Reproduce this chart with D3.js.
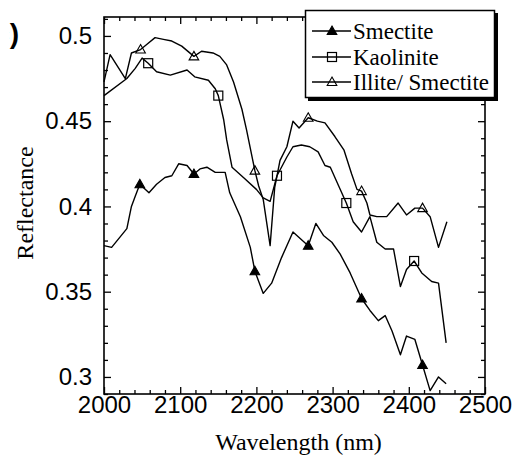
<!DOCTYPE html>
<html><head><meta charset="utf-8">
<script src="https://cdn.jsdelivr.net/npm/d3@7"></script>
<style>html,body{margin:0;padding:0;background:#fff;}svg{display:block;}</style>
</head><body><svg id="c" width="516" height="458"></svg>
<script>
// ---- data ----
const smectiteWl = [2000,2010,2030,2036,2041,2047,2059,2069,2080,2089,2098,2109,2118,2126,2135,2146,2159,2165,2179,2192,2198,2209,2220,2233,2248,2268,2278,2288,2299,2310,2323,2338,2349,2360,2369,2378,2389,2397,2408,2418,2428,2439,2449];
const smectiteR = [0.377,0.376,0.387,0.400,0.406,0.413,0.408,0.413,0.417,0.418,0.425,0.424,0.419,0.422,0.423,0.420,0.420,0.408,0.394,0.376,0.362,0.349,0.355,0.370,0.385,0.377,0.390,0.383,0.379,0.372,0.361,0.346,0.339,0.333,0.336,0.327,0.313,0.324,0.322,0.307,0.292,0.300,0.296];
const smectiteMarks = [2047,2118,2198,2268,2338,2418];

const kaoliniteWl = [2000,2030,2041,2050,2058,2069,2087,2109,2119,2137,2146,2150,2157,2161,2168,2183,2200,2209,2218,2227,2240,2248,2259,2270,2281,2290,2297,2308,2318,2327,2338,2349,2358,2369,2380,2389,2397,2407,2417,2430,2439,2449];
const kaoliniteR = [0.465,0.475,0.481,0.487,0.484,0.479,0.477,0.480,0.476,0.474,0.469,0.465,0.451,0.439,0.423,0.417,0.410,0.405,0.403,0.418,0.429,0.435,0.436,0.435,0.432,0.424,0.423,0.412,0.402,0.391,0.385,0.394,0.379,0.375,0.375,0.353,0.363,0.368,0.361,0.356,0.355,0.320];
const kaoliniteMarks = [2058,2150,2227,2318,2407];

const illiteWl = [2000,2008,2028,2036,2048,2056,2067,2078,2089,2102,2118,2128,2143,2152,2161,2170,2181,2187,2198,2203,2209,2218,2224,2231,2240,2248,2256,2268,2280,2290,2303,2315,2325,2332,2338,2345,2349,2358,2371,2386,2397,2408,2418,2428,2439,2450];
const illiteR = [0.473,0.489,0.475,0.490,0.492,0.495,0.499,0.498,0.497,0.494,0.488,0.491,0.490,0.488,0.483,0.473,0.457,0.445,0.421,0.412,0.404,0.377,0.411,0.427,0.435,0.450,0.446,0.452,0.450,0.449,0.441,0.433,0.419,0.410,0.409,0.402,0.395,0.394,0.394,0.402,0.395,0.399,0.399,0.394,0.376,0.391];
const illiteMarks = [2048,2118,2198,2268,2338,2418];

const seriesNames = ["Smectite","Kaolinite","Illite/ Smectite"];
const xMajorTicks = [2000,2100,2200,2300,2400,2500];
const yMajorTicks = [0.3,0.35,0.4,0.45,0.5];
const xMinorTicks = [2020,2040,2060,2080,2120,2140,2160,2180,2220,2240,2260,2280,2320,2340,2360,2380,2420,2440,2460,2480];
const yMinorTicks = [0.29,0.31,0.32,0.33,0.34,0.36,0.37,0.38,0.39,0.41,0.42,0.43,0.44,0.46,0.47,0.48,0.49,0.51];

// ---- layout ----
const svg = d3.select("#c");
const L = 104, R = 485, T = 17, B = 394;
const x = d3.scaleLinear().domain([2000,2500]).range([L,R]);
const y = d3.scaleLinear().domain([0.29,0.5111]).range([B,T]);
const sans = "'Liberation Sans', Arial, sans-serif";
const serif = "'Liberation Serif', 'Times New Roman', serif";

function styleAxis(g){
  g.select(".domain").remove();
  g.selectAll(".tick line").attr("stroke","#000").attr("stroke-width",1.3);
}
// bottom
svg.append("g").attr("transform",`translate(0,${B})`)
  .call(d3.axisBottom(x).tickValues(xMajorTicks).tickSize(-7).tickPadding(6).tickFormat(d3.format("d")))
  .call(styleAxis)
  .call(g=>g.selectAll("text").attr("font-family",sans).attr("font-size",24).attr("fill","#000").attr("dy","0.72em").attr("y",2));
svg.append("g").attr("transform",`translate(0,${B})`)
  .call(d3.axisBottom(x).tickValues(xMinorTicks).tickSize(-4).tickFormat(""))
  .call(styleAxis);
// top
svg.append("g").attr("transform",`translate(0,${T})`)
  .call(d3.axisTop(x).tickValues(xMajorTicks).tickSize(-7).tickFormat(""))
  .call(styleAxis);
svg.append("g").attr("transform",`translate(0,${T})`)
  .call(d3.axisTop(x).tickValues(xMinorTicks).tickSize(-4).tickFormat(""))
  .call(styleAxis);
// left
svg.append("g").attr("transform",`translate(${L},0)`)
  .call(d3.axisLeft(y).tickValues(yMajorTicks).tickSize(-7).tickPadding(12).tickFormat(d3.format("")))
  .call(styleAxis)
  .call(g=>g.selectAll("text").attr("font-family",sans).attr("font-size",24).attr("fill","#000"));
svg.append("g").attr("transform",`translate(${L},0)`)
  .call(d3.axisLeft(y).tickValues(yMinorTicks).tickSize(-4).tickFormat(""))
  .call(styleAxis);
// right
svg.append("g").attr("transform",`translate(${R},0)`)
  .call(d3.axisRight(y).tickValues(yMajorTicks).tickSize(-7).tickFormat(""))
  .call(styleAxis);
svg.append("g").attr("transform",`translate(${R},0)`)
  .call(d3.axisRight(y).tickValues(yMinorTicks).tickSize(-4).tickFormat(""))
  .call(styleAxis);

// frame
svg.append("rect").attr("x",L).attr("y",T).attr("width",R-L).attr("height",B-T)
  .attr("fill","none").attr("stroke","#000").attr("stroke-width",1.6);

// series
const line = d3.line().x(d=>x(d[0])).y(d=>y(d[1]));
const series = [
  {wl:smectiteWl, r:smectiteR, marks:smectiteMarks, sym:"triF"},
  {wl:kaoliniteWl, r:kaoliniteR, marks:kaoliniteMarks, sym:"sq"},
  {wl:illiteWl, r:illiteR, marks:illiteMarks, sym:"triO"}
];
function drawSym(g, sym, cx, cy){
  if(sym==="sq"){
    g.append("rect").attr("x",cx-4.5).attr("y",cy-4.5).attr("width",9).attr("height",9)
      .attr("fill","none").attr("stroke","#000").attr("stroke-width",1.2);
  } else {
    const p = d3.path(); p.moveTo(cx,cy-5); p.lineTo(cx+4.8,cy+3.5); p.lineTo(cx-4.8,cy+3.5); p.closePath();
    g.append("path").attr("d",p.toString())
      .attr("fill", sym==="triF" ? "#000" : "none").attr("stroke","#000").attr("stroke-width",1.1);
  }
}
series.forEach(s=>{
  const pts = s.wl.map((w,i)=>[w,s.r[i]]);
  svg.append("path").datum(pts).attr("d",line).attr("fill","none")
    .attr("stroke","#000").attr("stroke-width",1.4).attr("stroke-linejoin","round");
  const g = svg.append("g");
  s.marks.forEach(m=>{
    const i = s.wl.indexOf(m);
    drawSym(g, s.sym, x(s.wl[i]), y(s.r[i]));
  });
});

// legend
const lg = svg.append("g");
lg.append("rect").attr("x",308).attr("y",13).attr("width",190).attr("height",88).attr("fill","#000");
lg.append("rect").attr("x",305.5).attr("y",10.5).attr("width",189).attr("height",87)
  .attr("fill","#fff").attr("stroke","#000").attr("stroke-width",1.5);
const rowsY = [31,57,82];
series.forEach((s,i)=>{
  lg.append("line").attr("x1",312).attr("x2",351).attr("y1",rowsY[i]).attr("y2",rowsY[i])
    .attr("stroke","#000").attr("stroke-width",1.3);
  drawSym(lg, s.sym, 332, rowsY[i]);
  lg.append("text").attr("x",353).attr("y",rowsY[i]+7.5).text(seriesNames[i])
    .attr("font-family",serif).attr("font-size",23).attr("fill","#000");
});

// axis titles
svg.append("text").attr("x",(L+R)/2 + 4).attr("y",450).attr("text-anchor","middle")
  .attr("font-family",serif).attr("font-size",24).attr("fill","#000").text("Wavelength (nm)");
svg.append("text").attr("transform","translate(33,203) rotate(-90)").attr("text-anchor","middle")
  .attr("font-family",serif).attr("font-size",24).attr("fill","#000").text("Reflectance");
// panel letter: the reference shows only the cut-off right edge of it
svg.append("defs").append("clipPath").attr("id","lblclip")
  .append("rect").attr("x",9).attr("y",0).attr("width",20).attr("height",60);
svg.append("text").attr("x",19).attr("y",43).attr("text-anchor","end").attr("clip-path","url(#lblclip)")
  .attr("font-family",sans).attr("font-weight","bold").attr("font-size",28).attr("fill","#000").text("(c)");
</script></body></html>
